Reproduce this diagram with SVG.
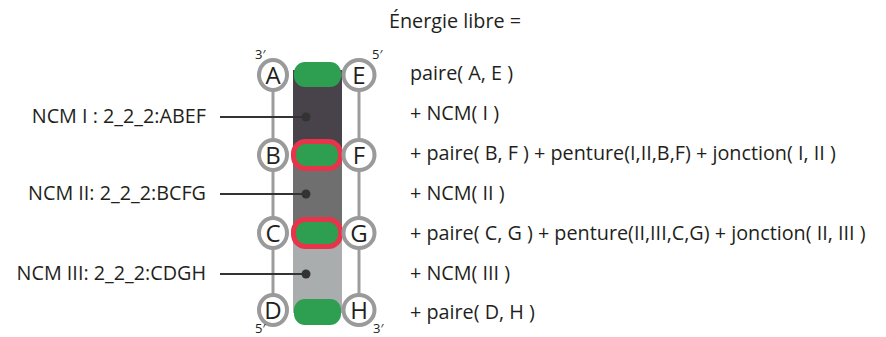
<svg xmlns="http://www.w3.org/2000/svg" width="886" height="337" viewBox="0 0 886 337">
<style>
text{font-family:"Open Sans","Liberation Sans",sans-serif;fill:#231f20}
.eq{font-size:19.8px}
.lbl{font-size:19.8px;text-anchor:end}
.node ellipse{fill:#fff;stroke:#9a9a9a;stroke-width:4}
.node text{font-size:24px;text-anchor:middle}
.strand{stroke:#9d9d9d;stroke-width:3}
.green{fill:#2e9e50}
.redbox{fill:#2e9e50;stroke:#e8344a;stroke-width:5}
.lead{stroke:#333;stroke-width:2}
.dot{fill:#333}
.prime{font-size:13px}
</style>
<g id="band">
<rect x="293" y="70" width="49" height="85" fill="#48434a"/>
<rect x="293" y="155" width="49" height="78" fill="#6f6f6f"/>
<rect x="293" y="233" width="49" height="80" fill="#a9adad"/>
</g>
<g id="strands">
<line class="strand" x1="273" y1="75" x2="273" y2="311"/>
<line class="strand" x1="359" y1="75" x2="359" y2="311"/>
</g>
<g id="pairs">
<rect class="green" x="294" y="62" width="47" height="25" rx="11"/>
<rect class="redbox" x="293.5" y="141.5" width="47" height="27" rx="12"/>
<rect class="redbox" x="293.5" y="219.5" width="47" height="27" rx="12"/>
<rect class="green" x="294" y="299" width="47" height="26" rx="11"/>
</g>
<g id="connectors">
<line class="lead" x1="220" y1="117" x2="306" y2="117"/>
<circle class="dot" cx="306" cy="117" r="4.5"/>
<line class="lead" x1="220" y1="194" x2="306" y2="194"/>
<circle class="dot" cx="306" cy="194" r="4.5"/>
<line class="lead" x1="220" y1="274" x2="306" y2="274"/>
<circle class="dot" cx="306" cy="274" r="4.5"/>
</g>
<g id="node-A" class="node"><ellipse cx="273" cy="75" rx="14" ry="15"/><text x="273" y="83.5">A</text></g>
<g id="node-B" class="node"><ellipse cx="273" cy="155" rx="14" ry="15"/><text x="273" y="163.5">B</text></g>
<g id="node-C" class="node"><ellipse cx="273" cy="233" rx="14" ry="15"/><text x="273" y="241.5">C</text></g>
<g id="node-D" class="node"><ellipse cx="273" cy="310" rx="14" ry="15"/><text x="273" y="318.5">D</text></g>
<g id="node-E" class="node"><ellipse cx="359" cy="75" rx="15.5" ry="15"/><text x="359" y="83.5">E</text></g>
<g id="node-F" class="node"><ellipse cx="359" cy="155" rx="15.5" ry="15"/><text x="359" y="163.5">F</text></g>
<g id="node-G" class="node"><ellipse cx="359" cy="233" rx="15.5" ry="15"/><text x="359" y="241.5">G</text></g>
<g id="node-H" class="node"><ellipse cx="359" cy="310" rx="15.5" ry="15"/><text x="359" y="318.5">H</text></g>
<g id="primes">
<text class="prime" x="255" y="59">3′</text>
<text class="prime" x="372" y="59">5′</text>
<text class="prime" x="255" y="333">5′</text>
<text class="prime" x="373" y="333">3′</text>
</g>
<g id="labels">
<text class="lbl" x="206" y="123">NCM I : 2_2_2:ABEF</text>
<text class="lbl" x="206" y="200">NCM II: 2_2_2:BCFG</text>
<text class="lbl" x="206" y="280">NCM III: 2_2_2:CDGH</text>
</g>
<g id="equation">
<text class="eq" x="389" y="28">Énergie libre =</text>
<text class="eq" x="410" y="80">paire( A, E )</text>
<text class="eq" x="410" y="120">+ NCM( I )</text>
<text class="eq" x="410" y="160">+ paire( B, F ) + penture(I,II,B,F) + jonction( I, II )</text>
<text class="eq" x="410" y="200">+ NCM( II )</text>
<text class="eq" x="410" y="240">+ paire( C, G ) + penture(II,III,C,G) + jonction( II, III )</text>
<text class="eq" x="410" y="280">+ NCM( III )</text>
<text class="eq" x="410" y="319">+ paire( D, H )</text>
</g>
</svg>
